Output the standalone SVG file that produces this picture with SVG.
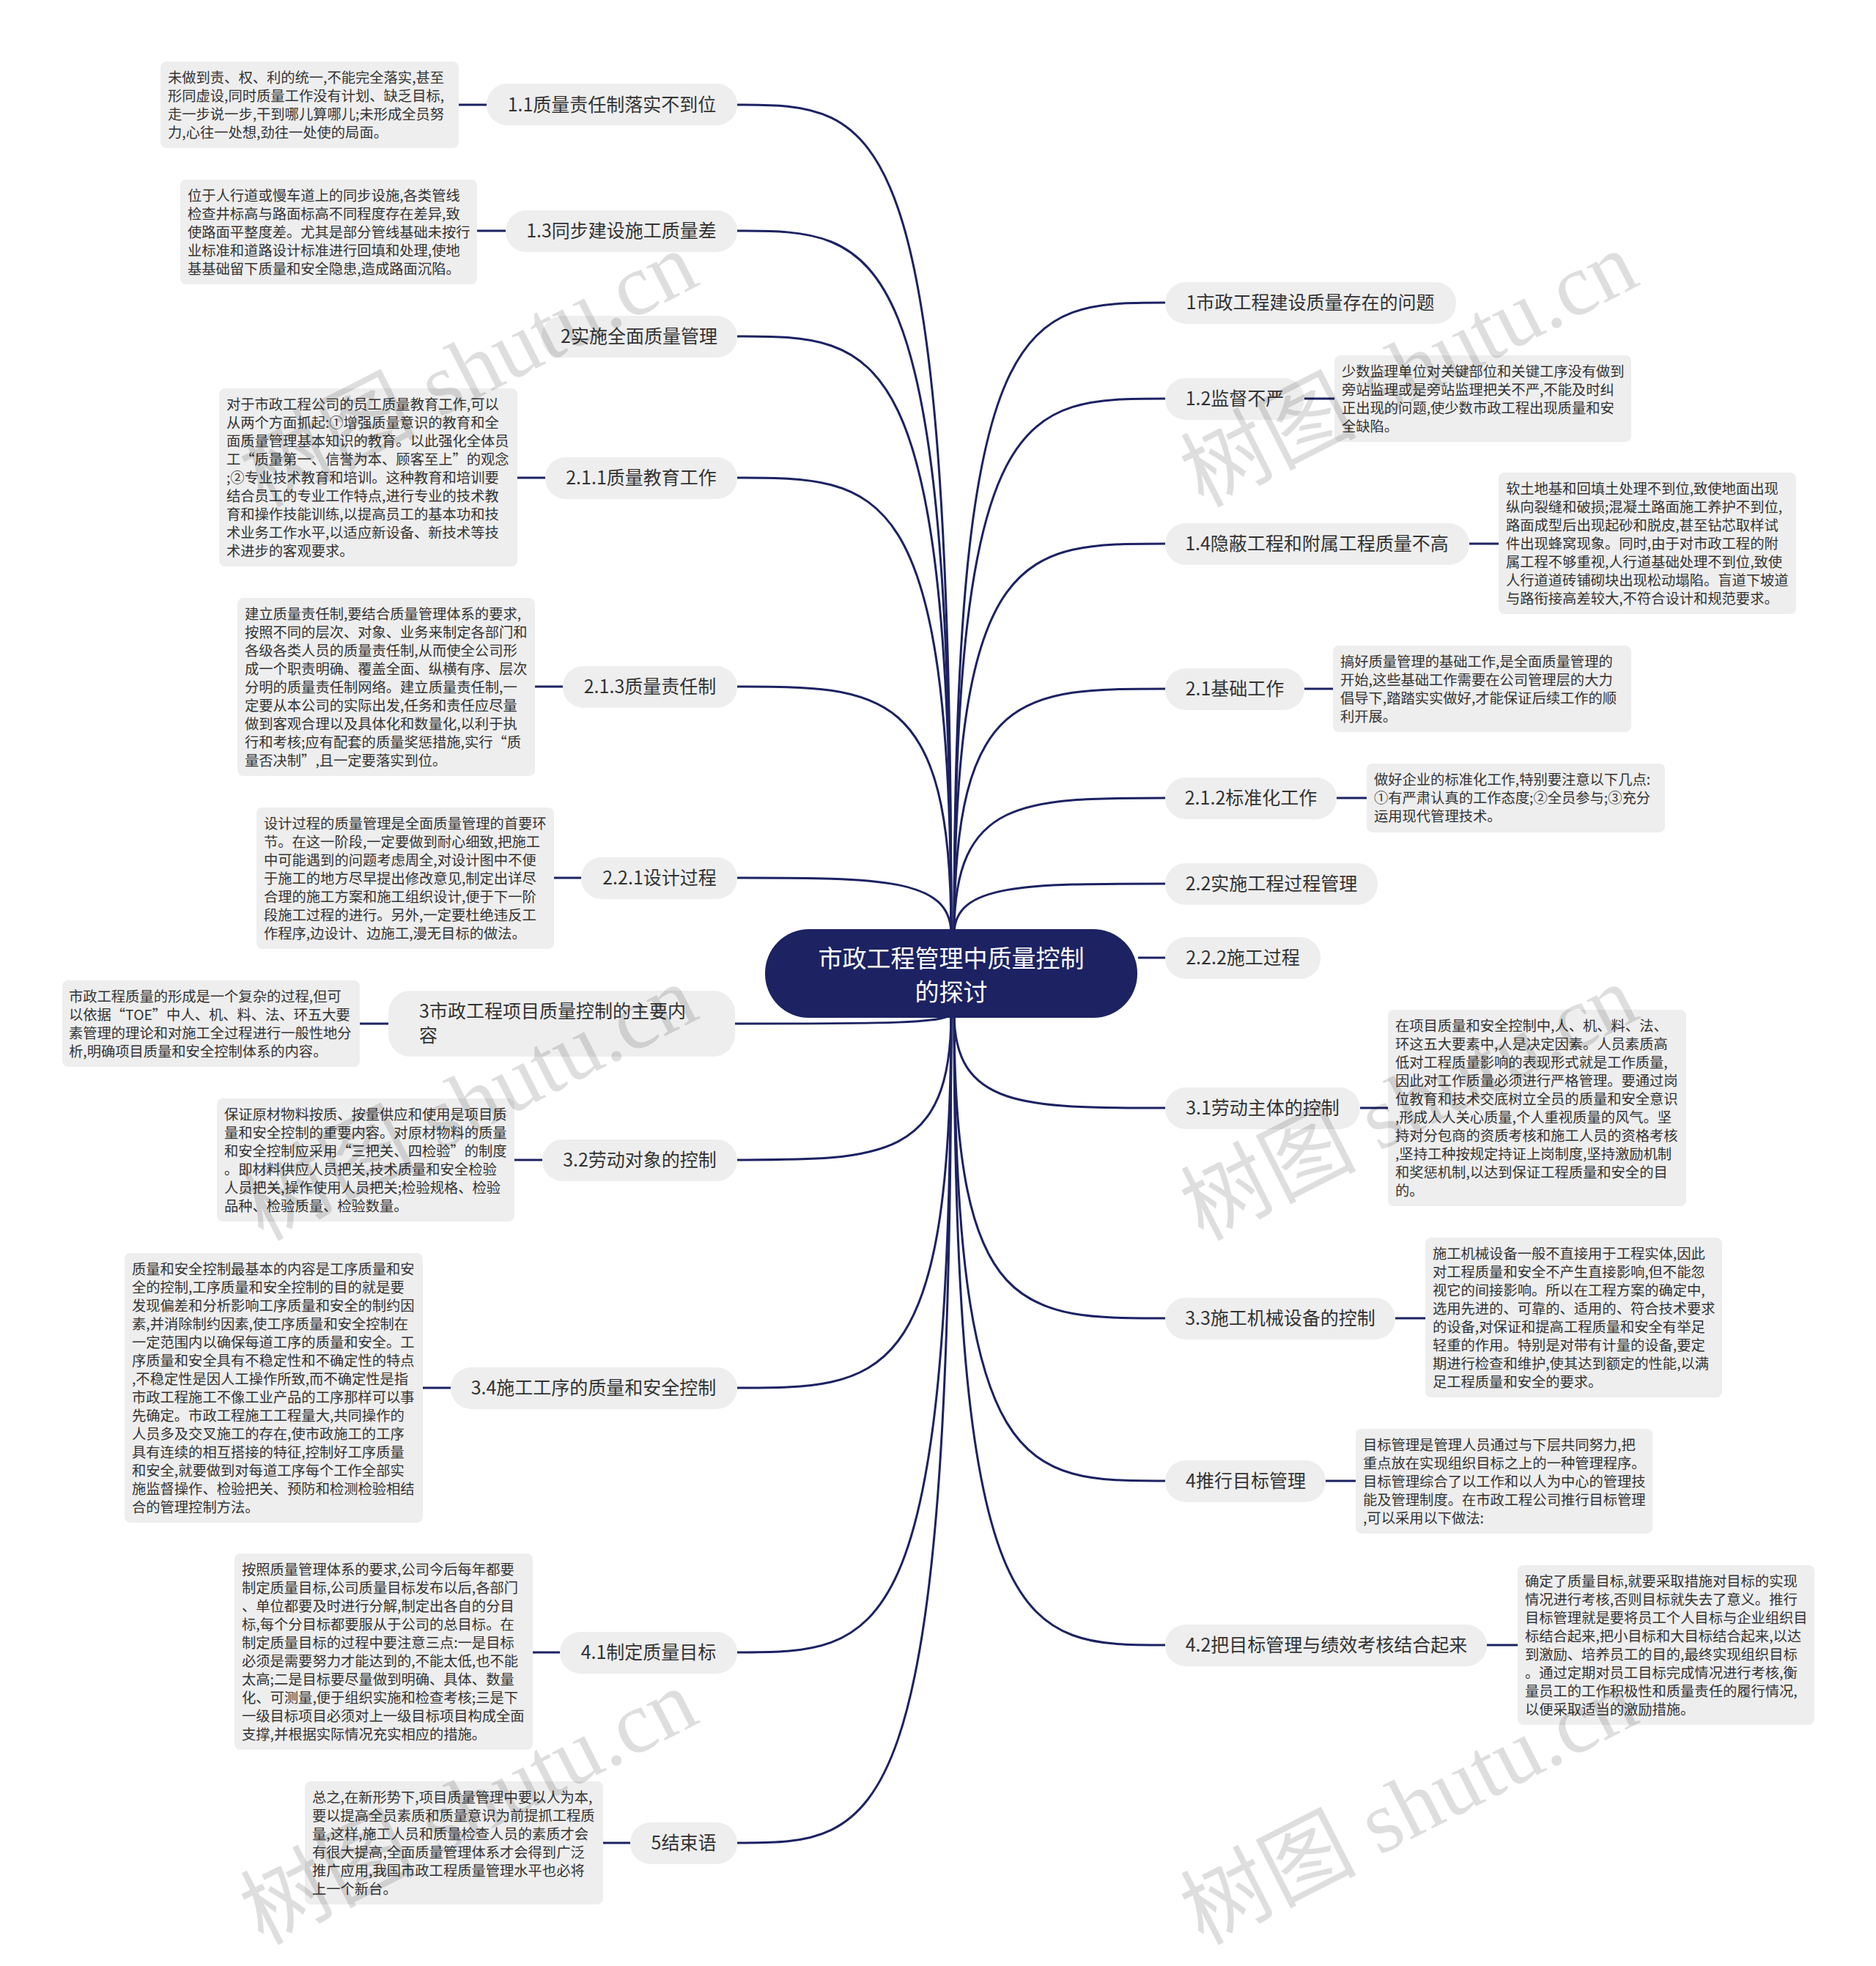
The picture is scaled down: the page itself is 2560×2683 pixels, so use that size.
<svg xmlns="http://www.w3.org/2000/svg" width="2560" height="2683" viewBox="0 0 2560 2683">
<style>
.c{fill:none;stroke:#1c2262;stroke-width:3}
.n{fill:#eeeeee}
.nt{font-family:"Noto Sans CJK SC","Noto Sans",sans-serif;font-size:25px;fill:#333333;text-anchor:middle}
.b{fill:#eeeeee}
.bt{font-family:"Noto Sans CJK SC","Noto Sans",sans-serif;font-size:19.3px;fill:#333333}
.wm{font-family:"Liberation Serif","Noto Sans CJK SC",serif;font-size:120px;fill:#000000;fill-opacity:0.13}
</style>
<rect width="2560" height="2683" fill="#ffffff"/>
<g id="connectors">
<path class="c" d="M1298 1275 C1298 143 1202 143 1006 143"/>
<path class="c" d="M1298 1275 C1298 315 1202 315 1006 315"/>
<path class="c" d="M1298 1275 C1298 459 1202 459 1006 459"/>
<path class="c" d="M1298 1275 C1298 652 1202 652 1006 652"/>
<path class="c" d="M1298 1275 C1298 937 1202 937 1006 937"/>
<path class="c" d="M1298 1275 C1298 1198 1202 1198 1006 1198"/>
<path class="c" d="M1302 1275 C1302 413 1397 413 1590 413"/>
<path class="c" d="M1302 1275 C1302 544 1397 544 1590 544"/>
<path class="c" d="M1302 1275 C1302 742 1397 742 1590 742"/>
<path class="c" d="M1302 1275 C1302 940 1397 940 1590 940"/>
<path class="c" d="M1302 1275 C1302 1089 1397 1089 1590 1089"/>
<path class="c" d="M1302 1275 C1302 1206 1397 1206 1590 1206"/>
<path class="c" d="M1553 1307 L1590 1307"/>
<path class="c" d="M1302 1382 C1302 1512 1397 1512 1590 1512"/>
<path class="c" d="M1302 1382 C1302 1799 1397 1799 1590 1799"/>
<path class="c" d="M1302 1382 C1302 2021 1397 2021 1590 2021"/>
<path class="c" d="M1302 1382 C1302 2245 1397 2245 1590 2245"/>
<path class="c" d="M1298 1382 C1298 1397 1202 1397 1003 1397"/>
<path class="c" d="M1298 1382 C1298 1583 1202 1583 1006 1583"/>
<path class="c" d="M1298 1382 C1298 1894 1202 1894 1006 1894"/>
<path class="c" d="M1298 1382 C1298 2255 1202 2255 1006 2255"/>
<path class="c" d="M1298 1382 C1298 2515 1202 2515 1006 2515"/>
<path class="c" d="M664 143 L626 143"/>
<path class="c" d="M690 315 L651 315"/>
<path class="c" d="M744 652 L706 652"/>
<path class="c" d="M768 937 L730 937"/>
<path class="c" d="M793 1198 L756 1198"/>
<path class="c" d="M530 1397 L491 1397"/>
<path class="c" d="M740 1583 L702 1583"/>
<path class="c" d="M615 1894 L577 1894"/>
<path class="c" d="M764 2255 L727 2255"/>
<path class="c" d="M860 2515 L823 2515"/>
<path class="c" d="M1780 544 L1821 544"/>
<path class="c" d="M2005 742 L2045 742"/>
<path class="c" d="M1780 940 L1819 940"/>
<path class="c" d="M1824 1089 L1865 1089"/>
<path class="c" d="M1856 1512 L1894 1512"/>
<path class="c" d="M1904 1799 L1945 1799"/>
<path class="c" d="M1809 2021 L1850 2021"/>
<path class="c" d="M2029 2245 L2071 2245"/>
</g>
<g id="root">
<rect x="1044" y="1268" width="508" height="121" rx="60" fill="#1c2262"/>
<text x="1298" y="1320" font-family="Noto Sans CJK SC, sans-serif" font-size="33" fill="#ffffff" text-anchor="middle">市政工程管理中质量控制</text>
<text x="1298" y="1366" font-family="Noto Sans CJK SC, sans-serif" font-size="33" fill="#ffffff" text-anchor="middle">的探讨</text>
</g>
<g id="n11"><rect class="n" x="664" y="114" width="342" height="57" rx="28"/><text class="nt" x="835" y="152">1.1质量责任制落实不到位</text></g>
<g id="n13"><rect class="n" x="690" y="287" width="316" height="57" rx="28"/><text class="nt" x="848" y="324">1.3同步建设施工质量差</text></g>
<g id="n2"><rect class="n" x="739" y="431" width="267" height="57" rx="28"/><text class="nt" x="872" y="468">2实施全面质量管理</text></g>
<g id="n211"><rect class="n" x="744" y="624" width="262" height="57" rx="28"/><text class="nt" x="875" y="661">2.1.1质量教育工作</text></g>
<g id="n213"><rect class="n" x="768" y="909" width="238" height="57" rx="28"/><text class="nt" x="887" y="946">2.1.3质量责任制</text></g>
<g id="n221"><rect class="n" x="793" y="1170" width="213" height="57" rx="28"/><text class="nt" x="900" y="1207">2.2.1设计过程</text></g>
<g id="n3"><rect class="n" x="530" y="1352" width="473" height="90" rx="30"/><text class="nt" x="572" y="1389" style="text-anchor:start">3市政工程项目质量控制的主要内</text><text class="nt" x="572" y="1422" style="text-anchor:start">容</text></g>
<g id="n32"><rect class="n" x="740" y="1555" width="266" height="57" rx="28"/><text class="nt" x="873" y="1592">3.2劳动对象的控制</text></g>
<g id="n34"><rect class="n" x="615" y="1866" width="391" height="57" rx="28"/><text class="nt" x="810" y="1903">3.4施工工序的质量和安全控制</text></g>
<g id="n41"><rect class="n" x="764" y="2227" width="242" height="57" rx="28"/><text class="nt" x="885" y="2264">4.1制定质量目标</text></g>
<g id="n5"><rect class="n" x="860" y="2487" width="146" height="57" rx="28"/><text class="nt" x="933" y="2524">5结束语</text></g>
<g id="n1"><rect class="n" x="1590" y="385" width="397" height="57" rx="28"/><text class="nt" x="1788" y="422">1市政工程建设质量存在的问题</text></g>
<g id="n12"><rect class="n" x="1590" y="516" width="190" height="57" rx="28"/><text class="nt" x="1685" y="553">1.2监督不严</text></g>
<g id="n14"><rect class="n" x="1590" y="714" width="415" height="57" rx="28"/><text class="nt" x="1797" y="751">1.4隐蔽工程和附属工程质量不高</text></g>
<g id="n21"><rect class="n" x="1590" y="912" width="190" height="57" rx="28"/><text class="nt" x="1685" y="949">2.1基础工作</text></g>
<g id="n212"><rect class="n" x="1590" y="1061" width="234" height="57" rx="28"/><text class="nt" x="1707" y="1098">2.1.2标准化工作</text></g>
<g id="n22"><rect class="n" x="1590" y="1178" width="290" height="57" rx="28"/><text class="nt" x="1735" y="1215">2.2实施工程过程管理</text></g>
<g id="n222"><rect class="n" x="1590" y="1279" width="212" height="57" rx="28"/><text class="nt" x="1696" y="1316">2.2.2施工过程</text></g>
<g id="n31"><rect class="n" x="1590" y="1484" width="266" height="57" rx="28"/><text class="nt" x="1723" y="1521">3.1劳动主体的控制</text></g>
<g id="n33"><rect class="n" x="1590" y="1771" width="314" height="57" rx="28"/><text class="nt" x="1747" y="1808">3.3施工机械设备的控制</text></g>
<g id="n4"><rect class="n" x="1590" y="1993" width="219" height="57" rx="28"/><text class="nt" x="1700" y="2030">4推行目标管理</text></g>
<g id="n42"><rect class="n" x="1590" y="2217" width="439" height="57" rx="28"/><text class="nt" x="1810" y="2254">4.2把目标管理与绩效考核结合起来</text></g>
<g id="d11"><rect class="b" x="219" y="84" width="407" height="118" rx="8"/><text class="bt"><tspan x="229" y="113">未做到责、权、利的统一,不能完全落实,甚至</tspan><tspan x="229" y="138">形同虚设,同时质量工作没有计划、缺乏目标,</tspan><tspan x="229" y="163">走一步说一步,干到哪儿算哪儿;未形成全员努</tspan><tspan x="229" y="188">力,心往一处想,劲往一处使的局面。</tspan></text></g>
<g id="d13"><rect class="b" x="246" y="245" width="405" height="143" rx="8"/><text class="bt"><tspan x="256" y="274">位于人行道或慢车道上的同步设施,各类管线</tspan><tspan x="256" y="299">检查井标高与路面标高不同程度存在差异,致</tspan><tspan x="256" y="324">使路面平整度差。尤其是部分管线基础未按行</tspan><tspan x="256" y="349">业标准和道路设计标准进行回填和处理,使地</tspan><tspan x="256" y="374">基基础留下质量和安全隐患,造成路面沉陷。</tspan></text></g>
<g id="d211"><rect class="b" x="299" y="530" width="407" height="243" rx="8"/><text class="bt"><tspan x="309" y="559">对于市政工程公司的员工质量教育工作,可以</tspan><tspan x="309" y="584">从两个方面抓起:①增强质量意识的教育和全</tspan><tspan x="309" y="609">面质量管理基本知识的教育。以此强化全体员</tspan><tspan x="309" y="634">工“质量第一、信誉为本、顾客至上”的观念</tspan><tspan x="309" y="659">;②专业技术教育和培训。这种教育和培训要</tspan><tspan x="309" y="684">结合员工的专业工作特点,进行专业的技术教</tspan><tspan x="309" y="709">育和操作技能训练,以提高员工的基本功和技</tspan><tspan x="309" y="734">术业务工作水平,以适应新设备、新技术等技</tspan><tspan x="309" y="759">术进步的客观要求。</tspan></text></g>
<g id="d213"><rect class="b" x="324" y="816" width="406" height="243" rx="8"/><text class="bt"><tspan x="334" y="845">建立质量责任制,要结合质量管理体系的要求,</tspan><tspan x="334" y="870">按照不同的层次、对象、业务来制定各部门和</tspan><tspan x="334" y="895">各级各类人员的质量责任制,从而使全公司形</tspan><tspan x="334" y="920">成一个职责明确、覆盖全面、纵横有序、层次</tspan><tspan x="334" y="945">分明的质量责任制网络。建立质量责任制,一</tspan><tspan x="334" y="970">定要从本公司的实际出发,任务和责任应尽量</tspan><tspan x="334" y="995">做到客观合理以及具体化和数量化,以利于执</tspan><tspan x="334" y="1020">行和考核;应有配套的质量奖惩措施,实行“质</tspan><tspan x="334" y="1045">量否决制”,且一定要落实到位。</tspan></text></g>
<g id="d221"><rect class="b" x="350" y="1102" width="406" height="193" rx="8"/><text class="bt"><tspan x="360" y="1131">设计过程的质量管理是全面质量管理的首要环</tspan><tspan x="360" y="1156">节。在这一阶段,一定要做到耐心细致,把施工</tspan><tspan x="360" y="1181">中可能遇到的问题考虑周全,对设计图中不便</tspan><tspan x="360" y="1206">于施工的地方尽早提出修改意见,制定出详尽</tspan><tspan x="360" y="1231">合理的施工方案和施工组织设计,便于下一阶</tspan><tspan x="360" y="1256">段施工过程的进行。另外,一定要杜绝违反工</tspan><tspan x="360" y="1281">作程序,边设计、边施工,漫无目标的做法。</tspan></text></g>
<g id="d3"><rect class="b" x="85" y="1338" width="406" height="118" rx="8"/><text class="bt"><tspan x="94" y="1367">市政工程质量的形成是一个复杂的过程,但可</tspan><tspan x="94" y="1392">以依据“TOE”中人、机、料、法、环五大要</tspan><tspan x="94" y="1417">素管理的理论和对施工全过程进行一般性地分</tspan><tspan x="94" y="1442">析,明确项目质量和安全控制体系的内容。</tspan></text></g>
<g id="d32"><rect class="b" x="296" y="1499" width="406" height="168" rx="8"/><text class="bt"><tspan x="306" y="1528">保证原材物料按质、按量供应和使用是项目质</tspan><tspan x="306" y="1553">量和安全控制的重要内容。对原材物料的质量</tspan><tspan x="306" y="1578">和安全控制应采用“三把关、四检验”的制度</tspan><tspan x="306" y="1603">。即材料供应人员把关,技术质量和安全检验</tspan><tspan x="306" y="1628">人员把关,操作使用人员把关;检验规格、检验</tspan><tspan x="306" y="1653">品种、检验质量、检验数量。</tspan></text></g>
<g id="d34"><rect class="b" x="170" y="1710" width="407" height="368" rx="8"/><text class="bt"><tspan x="180" y="1739">质量和安全控制最基本的内容是工序质量和安</tspan><tspan x="180" y="1764">全的控制,工序质量和安全控制的目的就是要</tspan><tspan x="180" y="1789">发现偏差和分析影响工序质量和安全的制约因</tspan><tspan x="180" y="1814">素,并消除制约因素,使工序质量和安全控制在</tspan><tspan x="180" y="1839">一定范围内以确保每道工序的质量和安全。工</tspan><tspan x="180" y="1864">序质量和安全具有不稳定性和不确定性的特点</tspan><tspan x="180" y="1889">,不稳定性是因人工操作所致,而不确定性是指</tspan><tspan x="180" y="1914">市政工程施工不像工业产品的工序那样可以事</tspan><tspan x="180" y="1939">先确定。市政工程施工工程量大,共同操作的</tspan><tspan x="180" y="1964">人员多及交叉施工的存在,使市政施工的工序</tspan><tspan x="180" y="1989">具有连续的相互搭接的特征,控制好工序质量</tspan><tspan x="180" y="2014">和安全,就要做到对每道工序每个工作全部实</tspan><tspan x="180" y="2039">施监督操作、检验把关、预防和检测检验相结</tspan><tspan x="180" y="2064">合的管理控制方法。</tspan></text></g>
<g id="d41"><rect class="b" x="320" y="2120" width="407" height="268" rx="8"/><text class="bt"><tspan x="330" y="2149">按照质量管理体系的要求,公司今后每年都要</tspan><tspan x="330" y="2174">制定质量目标,公司质量目标发布以后,各部门</tspan><tspan x="330" y="2199">、单位都要及时进行分解,制定出各自的分目</tspan><tspan x="330" y="2224">标,每个分目标都要服从于公司的总目标。在</tspan><tspan x="330" y="2249">制定质量目标的过程中要注意三点:一是目标</tspan><tspan x="330" y="2274">必须是需要努力才能达到的,不能太低,也不能</tspan><tspan x="330" y="2299">太高;二是目标要尽量做到明确、具体、数量</tspan><tspan x="330" y="2324">化、可测量,便于组织实施和检查考核;三是下</tspan><tspan x="330" y="2349">一级目标项目必须对上一级目标项目构成全面</tspan><tspan x="330" y="2374">支撑,并根据实际情况充实相应的措施。</tspan></text></g>
<g id="d5"><rect class="b" x="416" y="2431" width="407" height="168" rx="8"/><text class="bt"><tspan x="426" y="2460">总之,在新形势下,项目质量管理中要以人为本,</tspan><tspan x="426" y="2485">要以提高全员素质和质量意识为前提抓工程质</tspan><tspan x="426" y="2510">量,这样,施工人员和质量检查人员的素质才会</tspan><tspan x="426" y="2535">有很大提高,全面质量管理体系才会得到广泛</tspan><tspan x="426" y="2560">推广应用,我国市政工程质量管理水平也必将</tspan><tspan x="426" y="2585">上一个新台。</tspan></text></g>
<g id="d12"><rect class="b" x="1821" y="485" width="405" height="118" rx="8"/><text class="bt"><tspan x="1831" y="514">少数监理单位对关键部位和关键工序没有做到</tspan><tspan x="1831" y="539">旁站监理或是旁站监理把关不严,不能及时纠</tspan><tspan x="1831" y="564">正出现的问题,使少数市政工程出现质量和安</tspan><tspan x="1831" y="589">全缺陷。</tspan></text></g>
<g id="d14"><rect class="b" x="2045" y="645" width="406" height="193" rx="8"/><text class="bt"><tspan x="2055" y="674">软土地基和回填土处理不到位,致使地面出现</tspan><tspan x="2055" y="699">纵向裂缝和破损;混凝土路面施工养护不到位,</tspan><tspan x="2055" y="724">路面成型后出现起砂和脱皮,甚至钻芯取样试</tspan><tspan x="2055" y="749">件出现蜂窝现象。同时,由于对市政工程的附</tspan><tspan x="2055" y="774">属工程不够重视,人行道基础处理不到位,致使</tspan><tspan x="2055" y="799">人行道道砖铺砌块出现松动塌陷。盲道下坡道</tspan><tspan x="2055" y="824">与路衔接高差较大,不符合设计和规范要求。</tspan></text></g>
<g id="d21"><rect class="b" x="1819" y="881" width="407" height="118" rx="8"/><text class="bt"><tspan x="1829" y="910">搞好质量管理的基础工作,是全面质量管理的</tspan><tspan x="1829" y="935">开始,这些基础工作需要在公司管理层的大力</tspan><tspan x="1829" y="960">倡导下,踏踏实实做好,才能保证后续工作的顺</tspan><tspan x="1829" y="985">利开展。</tspan></text></g>
<g id="d212"><rect class="b" x="1865" y="1042" width="407" height="94" rx="8"/><text class="bt"><tspan x="1875" y="1071">做好企业的标准化工作,特别要注意以下几点:</tspan><tspan x="1875" y="1096">①有严肃认真的工作态度;②全员参与;③充分</tspan><tspan x="1875" y="1121">运用现代管理技术。</tspan></text></g>
<g id="d31"><rect class="b" x="1894" y="1378" width="407" height="268" rx="8"/><text class="bt"><tspan x="1904" y="1407">在项目质量和安全控制中,人、机、料、法、</tspan><tspan x="1904" y="1432">环这五大要素中,人是决定因素。人员素质高</tspan><tspan x="1904" y="1457">低对工程质量影响的表现形式就是工作质量,</tspan><tspan x="1904" y="1482">因此对工作质量必须进行严格管理。要通过岗</tspan><tspan x="1904" y="1507">位教育和技术交底树立全员的质量和安全意识</tspan><tspan x="1904" y="1532">,形成人人关心质量,个人重视质量的风气。坚</tspan><tspan x="1904" y="1557">持对分包商的资质考核和施工人员的资格考核</tspan><tspan x="1904" y="1582">,坚持工种按规定持证上岗制度,坚持激励机制</tspan><tspan x="1904" y="1607">和奖惩机制,以达到保证工程质量和安全的目</tspan><tspan x="1904" y="1632">的。</tspan></text></g>
<g id="d33"><rect class="b" x="1945" y="1689" width="405" height="218" rx="8"/><text class="bt"><tspan x="1955" y="1718">施工机械设备一般不直接用于工程实体,因此</tspan><tspan x="1955" y="1743">对工程质量和安全不产生直接影响,但不能忽</tspan><tspan x="1955" y="1768">视它的间接影响。所以在工程方案的确定中,</tspan><tspan x="1955" y="1793">选用先进的、可靠的、适用的、符合技术要求</tspan><tspan x="1955" y="1818">的设备,对保证和提高工程质量和安全有举足</tspan><tspan x="1955" y="1843">轻重的作用。特别是对带有计量的设备,要定</tspan><tspan x="1955" y="1868">期进行检查和维护,使其达到额定的性能,以满</tspan><tspan x="1955" y="1893">足工程质量和安全的要求。</tspan></text></g>
<g id="d4"><rect class="b" x="1850" y="1950" width="405" height="143" rx="8"/><text class="bt"><tspan x="1860" y="1979">目标管理是管理人员通过与下层共同努力,把</tspan><tspan x="1860" y="2004">重点放在实现组织目标之上的一种管理程序。</tspan><tspan x="1860" y="2029">目标管理综合了以工作和以人为中心的管理技</tspan><tspan x="1860" y="2054">能及管理制度。在市政工程公司推行目标管理</tspan><tspan x="1860" y="2079">,可以采用以下做法:</tspan></text></g>
<g id="d42"><rect class="b" x="2071" y="2136" width="405" height="218" rx="8"/><text class="bt"><tspan x="2081" y="2165">确定了质量目标,就要采取措施对目标的实现</tspan><tspan x="2081" y="2190">情况进行考核,否则目标就失去了意义。推行</tspan><tspan x="2081" y="2215">目标管理就是要将员工个人目标与企业组织目</tspan><tspan x="2081" y="2240">标结合起来,把小目标和大目标结合起来,以达</tspan><tspan x="2081" y="2265">到激励、培养员工的目的,最终实现组织目标</tspan><tspan x="2081" y="2290">。通过定期对员工目标完成情况进行考核,衡</tspan><tspan x="2081" y="2315">量员工的工作积极性和质量责任的履行情况,</tspan><tspan x="2081" y="2340">以便采取适当的激励措施。</tspan></text></g>
<g id="watermarks">
<text class="wm" transform="translate(358 693) rotate(-27)">树图 shutu.cn</text>
<text class="wm" transform="translate(1641 693) rotate(-27)">树图 shutu.cn</text>
<text class="wm" transform="translate(358 1694) rotate(-27)">树图 shutu.cn</text>
<text class="wm" transform="translate(1641 1694) rotate(-27)">树图 shutu.cn</text>
<text class="wm" transform="translate(358 2655) rotate(-27)">树图 shutu.cn</text>
<text class="wm" transform="translate(1641 2655) rotate(-27)">树图 shutu.cn</text>
</g>
</svg>
